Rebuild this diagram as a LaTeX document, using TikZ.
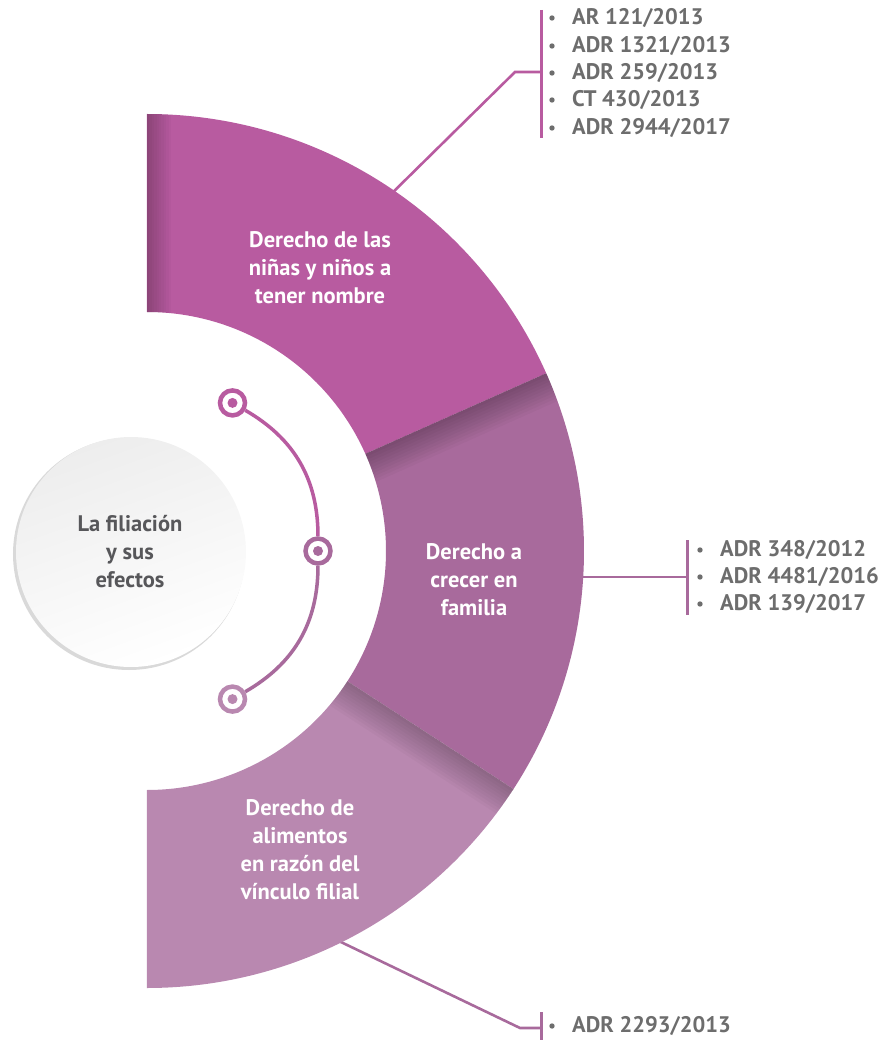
\documentclass[tikz,border=0pt]{standalone}
\usepackage{fontspec}
\setmainfont{PT Sans}
\definecolor{topc}{HTML}{B85BA0}
\definecolor{midc}{HTML}{A86A9C}
\definecolor{botc}{HTML}{B988B0}
\definecolor{txtc}{HTML}{6D6D6D}
\definecolor{ctrc}{HTML}{57575A}

\begin{document}
\begin{tikzpicture}
  [x=1pt,y=1pt,
   every node/.style={font=\bfseries\fontsize{22.5}{28}\selectfont,align=center,inner sep=0},
   seg/.style={text=white},
   item/.style={anchor=west,text=txtc,font=\bfseries\fontsize{22.5}{27}\selectfont},
   ring/.style={circle,fill=white,line width=4.5pt,minimum size=25pt,draw},
   link/.style={line width=2.6pt},
   bar/.style={line width=3pt}]

  \useasboundingbox (-147,-491) rectangle (743,551);

  \coordinate (s1) at (55.7:430);
  \coordinate (k1) at (368,479);
  \coordinate (j1) at (394,479);
  \coordinate (s2) at (425,-26);
  \coordinate (j2) at (540,-26);
  \coordinate (s3) at (-64.3:430);
  \coordinate (k3) at (373,-477);
  \coordinate (j3) at (394,-477);

  \draw[link,topc] (s1) -- (k1) -- (j1);
  \draw[link,midc] (s2) -- (j2);
  \draw[link,midc] (s3) -- (k3) -- (j3);
  \draw[bar,topc] (394,541) -- (394,413);
  \draw[bar,midc] (540,11) -- (540,-64);
  \draw[bar,midc] (394,-461) -- (394,-489);

  \fill[topc] (90:437) arc[start angle=90,end angle=24,radius=437]
    -- (24:239) arc[start angle=24,end angle=90,radius=239] -- cycle;
  \fill[midc] (24:437) arc[start angle=24,end angle=-33,radius=437]
    -- (-33:239) arc[start angle=-33,end angle=24,radius=239] -- cycle;
  \fill[botc] (-33:437) arc[start angle=-33,end angle=-90,radius=437]
    -- (-90:239) arc[start angle=-90,end angle=-33,radius=239] -- cycle;

  % shadows
  \begin{scope}
    \clip (90:437) arc[start angle=90,end angle=24,radius=437]
      -- (24:239) arc[start angle=24,end angle=90,radius=239] -- cycle;
    \foreach \i in {1,...,10}
      \fill[black,opacity=.022] (0,0) rectangle (\i*2.4,440);
  \end{scope}
  \begin{scope}
    \clip (24:437) arc[start angle=24,end angle=-33,radius=437]
      -- (-33:239) arc[start angle=-33,end angle=24,radius=239] -- cycle;
    \foreach \i in {1,...,10}
      \fill[black,opacity=.028,rotate=24] (200,0) rectangle (450,-\i*3);
  \end{scope}
  \begin{scope}
    \clip (-33:437) arc[start angle=-33,end angle=-90,radius=437]
      -- (-90:239) arc[start angle=-90,end angle=-33,radius=239] -- cycle;
    \foreach \i in {1,...,10}
      \fill[black,opacity=.025,rotate=-33] (200,0) rectangle (450,-\i*3);
  \end{scope}

  \node[seg] (n1) at (173,283) {Derecho de las\\niñas y niños a\\tener nombre};
  \node[seg] (n2) at (327,-29) {Derecho a\\crecer en\\familia};
  \node[seg] (n3) at (153,-299) {Derecho de\\alimentos\\en razón del\\vínculo filial};

  \fill[gray!30] (-18,-3) circle (116);
  \shade[top color=gray!14,bottom color=white,shading angle=20] (-16,-1) circle (115);
  \node[text=ctrc] (n0) at (-17,-1) {La filiación\\y sus\\efectos};

  \node[ring,draw=topc] (d1) at (60:171) {};
  \node[ring,draw=midc] (d2) at (0:171) {};
  \node[ring,draw=botc] (d3) at (-60:171) {};
  \draw[topc,line width=3.5pt] (d1) to[bend left=30] (d2);
  \draw[midc,line width=3.5pt] (d2) to[bend left=30] (d3);
  \fill[topc] (d1) circle (5);
  \fill[midc] (d2) circle (5);
  \fill[botc] (d3) circle (5);

  \foreach \n/\x/\y/\t in {a1/425/533/{AR 121/2013},a2/425/505/{ADR 1321/2013},
      a3/425/478/{ADR 259/2013},a4/425/451/{CT 430/2013},a5/425/423/{ADR 2944/2017},
      b1/573/1/{ADR 348/2012},b2/573/-26/{ADR 4481/2016},b3/573/-53/{ADR 139/2017},
      c1/425/-475/{ADR 2293/2013}}
  {
    \node[item] (\n) at (\x,\y) {\t};
    \fill[txtc] (\x-20,\y) circle (2.7);
  }

\end{tikzpicture}
\end{document}
